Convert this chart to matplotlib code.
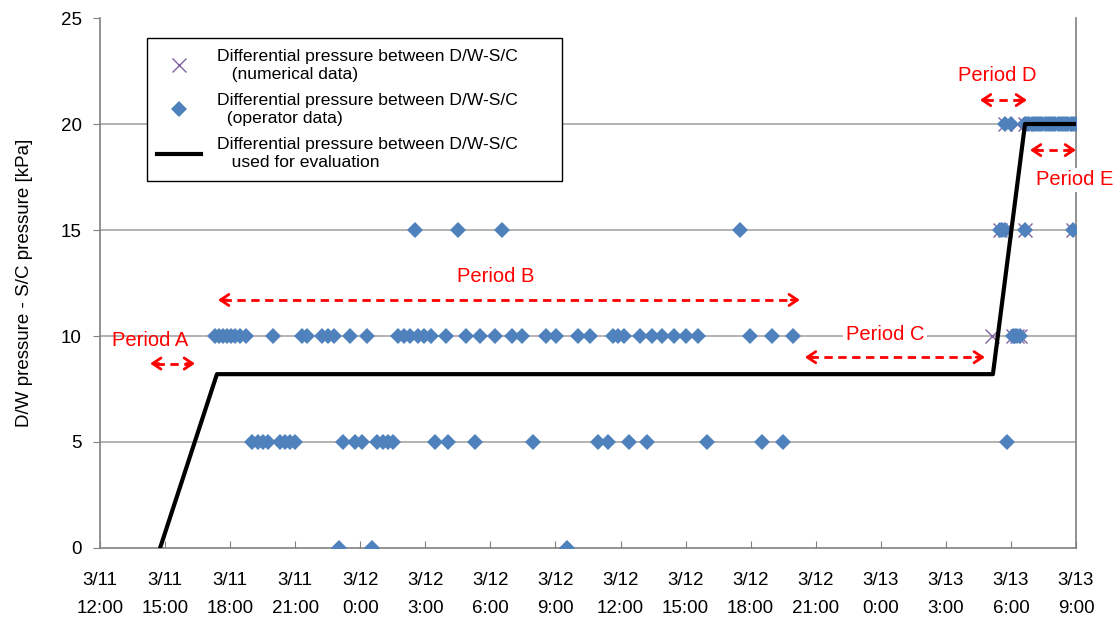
import numpy as np
import matplotlib.pyplot as plt

plt.rcParams['font.family'] = ['Liberation Sans', 'DejaVu Sans']

# time axis: hours counted from 3/11 12:00
tick_hours = list(range(0, 46, 3))
tick_labels = ['3/11\n12:00', '3/11\n15:00', '3/11\n18:00', '3/11\n21:00',
               '3/12\n0:00', '3/12\n3:00', '3/12\n6:00', '3/12\n9:00',
               '3/12\n12:00', '3/12\n15:00', '3/12\n18:00', '3/12\n21:00',
               '3/13\n0:00', '3/13\n3:00', '3/13\n6:00', '3/13\n9:00']

# operator data, grouped by the reported value [kPa]
op_hours_0 = [11.02, 12.54, 21.53]
op_hours_5 = [7.01, 7.28, 7.51, 7.75, 8.30, 8.53, 8.76, 8.99, 11.20, 11.76,
              12.08, 12.77, 13.05, 13.28, 13.51, 15.44, 16.04, 17.29, 19.96,
              22.96, 23.42, 24.39, 25.22, 27.98, 30.52, 31.49, 41.82]
op_hours_10 = [5.30, 5.49, 5.67, 5.86, 6.04, 6.22, 6.45, 6.73, 7.98, 9.31,
               9.54, 10.24, 10.51, 10.79, 11.53, 12.31, 13.74, 14.02, 14.29,
               14.66, 14.94, 15.26, 15.95, 16.87, 17.52, 18.21, 19.00, 19.46,
               20.56, 21.02, 22.04, 22.59, 23.65, 23.88, 24.16, 24.90, 25.45,
               25.91, 26.46, 27.02, 27.57, 29.97, 30.98, 31.95,
               42.09, 42.20, 42.28, 42.42]
op_hours_15 = [14.52, 16.51, 18.53, 29.51, 41.49, 41.60, 41.72, 42.65, 44.86]
op_hours_20 = [41.72, 42.00, 42.65, 42.75, 42.85, 42.95, 43.05, 43.15, 43.25,
               43.35, 43.45, 43.55, 43.65, 43.75, 43.85, 43.95, 44.05, 44.15,
               44.25, 44.35, 44.45, 44.55, 44.65, 44.75, 44.85, 44.95, 45.04]

# numerical data
num_hours = [41.12, 42.09, 42.28, 42.42, 41.49, 41.72, 42.65, 44.86,
             41.72, 42.30, 42.65, 45.04]
num_kpa = [10, 10, 10, 10, 15, 15, 15, 15, 20, 20, 20, 20]

# differential pressure used for evaluation
eval_hours = [2.77, 5.39, 41.17, 42.65, 45.0]
eval_kpa = [0, 8.2, 8.2, 20, 20]

op_hours = op_hours_0 + op_hours_5 + op_hours_10 + op_hours_15 + op_hours_20
op_kpa = ([0] * len(op_hours_0) + [5] * len(op_hours_5) + [10] * len(op_hours_10)
          + [15] * len(op_hours_15) + [20] * len(op_hours_20))

fig = plt.figure(figsize=(11.2, 6.22), dpi=100)
ax = fig.add_axes([0.0893, 0.119, 0.8714, 0.852])

for y in [5, 10, 15, 20]:
    ax.axhline(y, color='#a6a6a6', lw=1.2, zorder=0)

ax.plot(num_hours, num_kpa, 'x', color='#8064a2', ms=10, mew=1.0,
        label='Differential pressure between D/W-S/C       \n   (numerical data)', zorder=3)
ax.plot(op_hours, op_kpa, 'D', color='#4f81bd', ms=8, mew=0,
        label='Differential pressure between D/W-S/C\n  (operator data)', zorder=4)
ax.plot(eval_hours, eval_kpa, '-', color='black', lw=3,
        label='Differential pressure between D/W-S/C\n   used for evaluation', zorder=5)


def period(x0, x1, y, text, tx, ty, box=False):
    # dashed shaft with a solid open head at each end
    ax.plot([x0 + 0.25, x1 - 0.25], [y, y], color='red', lw=2, ls=(0, (3, 2)), zorder=6)
    for a, b in [(x0 + 0.4, x0), (x1 - 0.4, x1)]:
        ax.annotate('', xy=(b, y), xytext=(a, y),
                    arrowprops=dict(arrowstyle='->,head_length=0.6,head_width=0.4',
                                    color='red', lw=2, shrinkA=0, shrinkB=0), zorder=6)
    kw = {}
    if box:
        kw['bbox'] = dict(facecolor='white', edgecolor='none', pad=2)
    ax.text(tx, ty, text, color='red', fontsize=14.5, ha='center', va='center',
            zorder=7, clip_on=False, **kw)


period(2.31, 4.38, 8.7, 'Period A', 2.31, 9.8)
period(5.44, 32.27, 11.7, 'Period B', 18.26, 12.8)
period(32.5, 40.8, 9.0, 'Period C', 36.2, 10.05, box=True)
period(40.57, 42.74, 21.13, 'Period D', 41.36, 22.3)
period(42.88, 45.0, 18.77, 'Period E', 44.95, 17.36, box=True)

ax.set_xlim(0, 45)
ax.set_ylim(0, 25)
ax.set_xticks(tick_hours)
ax.set_xticklabels(tick_labels, fontsize=13.5, linespacing=1.85)
ax.set_yticks(range(0, 26, 5))
ax.tick_params(axis='y', labelsize=13.5, length=5, color='#808080', pad=8)
ax.tick_params(axis='x', direction='in', length=5, color='#808080', pad=17)
ax.set_ylabel('D/W pressure - S/C pressure [kPa]', fontsize=13.5, labelpad=20)

ax.spines['top'].set_visible(False)
for s in ['left', 'right', 'bottom']:
    ax.spines[s].set_color('#808080')
    ax.spines[s].set_linewidth(1.2)

leg = ax.legend(loc='upper left', bbox_to_anchor=(0.048, 0.962), fontsize=12.6,
                frameon=True, fancybox=False, edgecolor='black', framealpha=1,
                handlelength=2.5, labelspacing=0.6, borderpad=0.6, handletextpad=0.9,
                borderaxespad=0)
for t in leg.get_texts():
    t.set_linespacing(1.3)
leg.get_frame().set_linewidth(1.0)

fig.savefig('out.png', dpi=100)
